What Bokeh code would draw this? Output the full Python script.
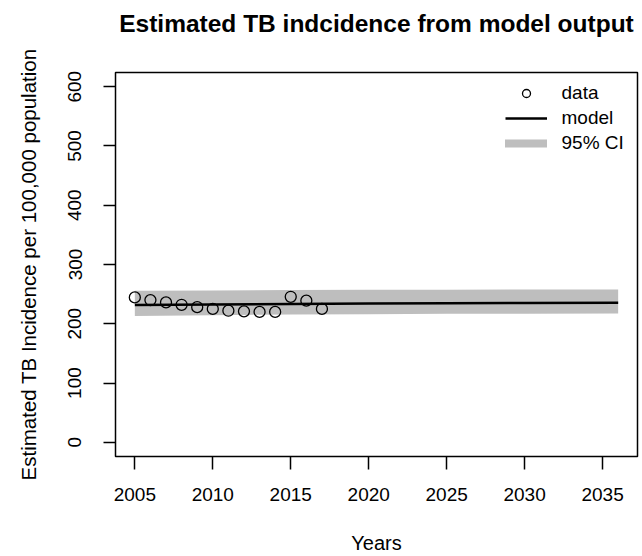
from bokeh.plotting import figure
from bokeh.models import Range1d, FixedTicker, Legend, LegendItem, Title
from bokeh.embed import file_html
from bokeh.resources import INLINE

# ---- data ----
years = [2005, 2006, 2007, 2008, 2009, 2010, 2011, 2012, 2013, 2014, 2015, 2016, 2017]
incidence = [244.5, 240, 236, 232, 228, 225, 222, 221, 220, 220, 245.5, 239, 225]

model_years = [2005, 2010, 2015, 2020, 2025, 2030, 2036]
model_mid = [231.5, 232.5, 233.5, 234.2, 234.8, 235.2, 235.5]
ci_lower = [213.0, 214.5, 215.5, 216.2, 216.7, 217.0, 217.2]
ci_upper = [255.5, 256.2, 256.8, 257.2, 257.5, 257.7, 258.0]

x_ticks = [2005, 2010, 2015, 2020, 2025, 2030, 2035]
y_ticks = [0, 100, 200, 300, 400, 500, 600]

title_text = "Estimated TB indcidence from model output"
x_label_text = "Years"
y_label_text = "Estimated TB Incidence per 100,000 population"
legend_labels = ["data", "model", "95% CI"]

FONT = "Liberation Sans"
BAND = "#BEBEBE"

p = figure(width=642, height=556, output_backend="svg", toolbar_location=None,
           x_range=Range1d(2003.76, 2037.24), y_range=Range1d(-24, 624),
           min_border_left=115, min_border_right=5, min_border_top=72,
           min_border_bottom=97, background_fill_color="white",
           border_fill_color="white", title=None)

# spacer between frame and title (closest to the frame), then the title
p.add_layout(Title(text=" ", text_font_size="1px", standoff=33), "above")
p.add_layout(Title(text=title_text, text_font=FONT, text_font_size="24.5px",
                   text_font_style="bold", text_color="black", align="center",
                   standoff=0), "above")

p.grid.visible = False
p.outline_line_color = "black"
p.outline_line_width = 1.5

# axes
p.xaxis.ticker = FixedTicker(ticks=x_ticks)
p.yaxis.ticker = FixedTicker(ticks=y_ticks)
for ax in (p.xaxis, p.yaxis):
    ax.axis_line_color = None
    ax.major_tick_in = 0
    ax.minor_tick_in = 0
    ax.minor_tick_out = 0
    ax.major_tick_line_color = "black"
    ax.major_tick_line_width = 1.5
    ax.major_label_text_font = FONT
    ax.major_label_text_font_size = "19px"
    ax.major_label_text_color = "black"
    ax.axis_label_text_font = FONT
    ax.axis_label_text_font_style = "normal"
    ax.axis_label_text_color = "black"
p.xaxis.major_tick_out = 13
p.xaxis.major_label_standoff = 18
p.xaxis.axis_label = x_label_text
p.xaxis.axis_label_text_font_size = "20px"
p.xaxis.axis_label_standoff = 28
p.yaxis.major_tick_out = 12
p.yaxis.major_label_standoff = 22
p.yaxis.major_label_orientation = "vertical"
p.yaxis.axis_label = y_label_text
p.yaxis.axis_label_text_font_size = "20.5px"
p.yaxis.axis_label_standoff = 26

# glyphs
r_ci_key = p.line(model_years[1:-1], model_mid[1:-1], line_color=BAND,
                  line_width=8, line_cap="round")
r_band = p.varea(x=model_years, y1=ci_lower, y2=ci_upper, fill_color=BAND)
r_model = p.line(model_years, model_mid, line_color="black", line_width=2.5)
r_pts = p.scatter(years, incidence, marker="circle", size=11, fill_color=None,
                  line_color="black", line_width=1.3)

legend = Legend(items=[LegendItem(label=legend_labels[0], renderers=[r_pts]),
                       LegendItem(label=legend_labels[1], renderers=[r_model]),
                       LegendItem(label=legend_labels[2], renderers=[r_ci_key])],
                location=(389.5, 302), border_line_color=None,
                background_fill_alpha=0, padding=0, margin=0, spacing=3,
                glyph_width=42, glyph_height=20, label_height=20,
                label_standoff=15, label_text_font=FONT,
                label_text_font_size="19px", label_text_color="black")
p.add_layout(legend)

open("out.html", "w").write(file_html(p, INLINE))
